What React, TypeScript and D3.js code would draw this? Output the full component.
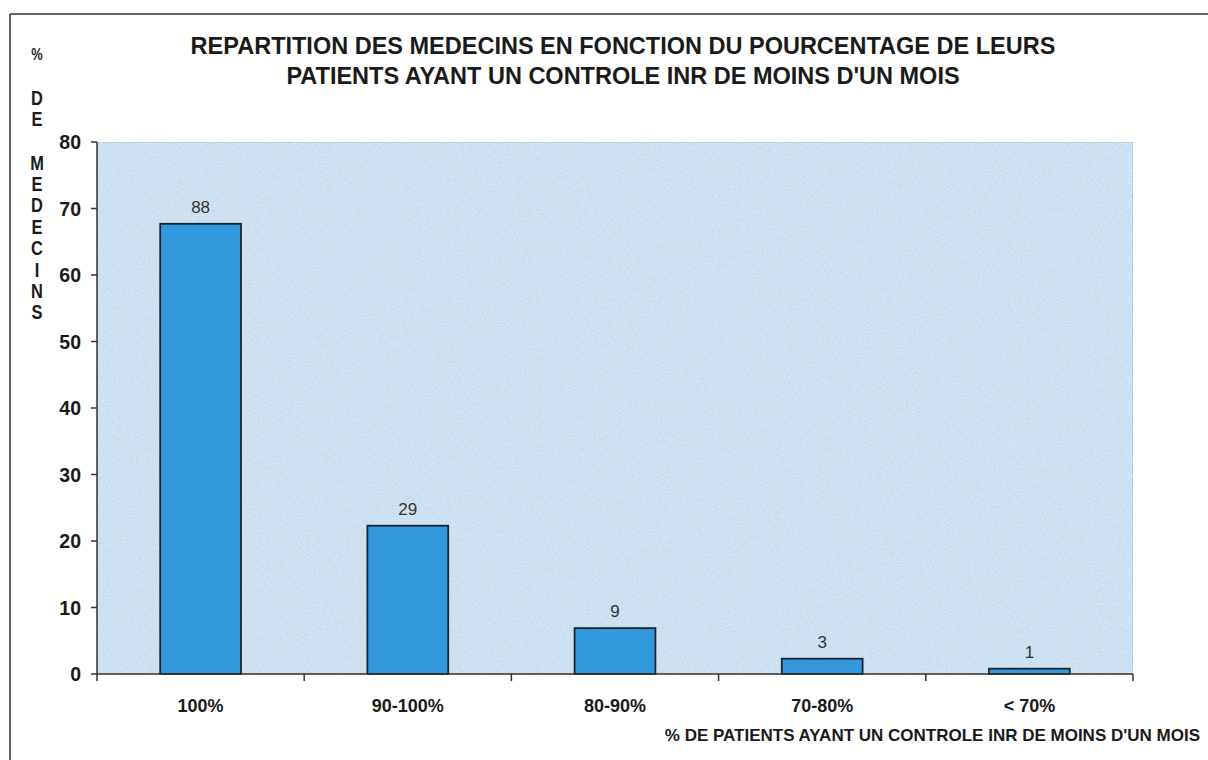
import React from "react";
import * as d3 from "d3";

const WIDTH = 1208;
const HEIGHT = 760;

// categories on the x axis
const categories = ["100%", "90-100%", "80-90%", "70-80%", "< 70%"];
// bar heights: % of doctors
const percentValues = [67.7, 22.3, 6.9, 2.3, 0.8];
// labels above the bars: number of doctors
const countLabels = ["88", "29", "9", "3", "1"];
const yTicks = [0, 10, 20, 30, 40, 50, 60, 70, 80];

const titleLines = [
  "REPARTITION DES MEDECINS EN FONCTION DU POURCENTAGE DE LEURS",
  "PATIENTS AYANT UN CONTROLE INR DE MOINS D'UN MOIS",
];
const xTitle = "% DE PATIENTS AYANT UN CONTROLE INR DE MOINS D'UN MOIS";
const yTitleGroups = ["%", "DE", "MEDECINS"];

const PLOT = { left: 97, right: 1133, top: 142, bottom: 674 };
const BAR_RATIO = 0.39;
const FONT = "Arial, 'Liberation Sans', sans-serif";

export default function App() {
  const x = d3.scaleBand<string>().domain(categories).range([PLOT.left, PLOT.right]).padding(0);
  const y = d3.scaleLinear().domain([0, 80]).range([PLOT.bottom, PLOT.top]);
  const barW = x.bandwidth() * BAR_RATIO;
  const boundaries = categories.map((c) => x(c) as number).concat([PLOT.right]);

  // vertical stacked y title letters
  const yLetters: { ch: string; y: number }[] = [];
  let cy = 52;
  yTitleGroups.forEach((g, gi) => {
    if (gi === 1) cy = 97;
    if (gi === 2) cy = 162;
    g.split("").forEach((ch) => {
      yLetters.push({ ch, y: cy });
      cy += 21.4;
    });
  });

  return (
    <svg width={WIDTH} height={HEIGHT} style={{ position: "absolute", left: 0, top: 0, background: "#fff" }}>
      <defs>
        <filter id="grain" x="0" y="0" width="100%" height="100%">
          <feTurbulence type="fractalNoise" baseFrequency="0.9" numOctaves="2" seed="3" result="n" />
          <feColorMatrix type="matrix" values="0 0 0 0 1  0 0 0 0 1  0 0 0 0 1  0 0 0 -0.9 0.55" in="n" result="w" />
          <feComposite in="w" in2="SourceGraphic" operator="in" result="wm" />
          <feMerge>
            <feMergeNode in="SourceGraphic" />
            <feMergeNode in="wm" />
          </feMerge>
        </filter>
      </defs>

      {/* outer frame */}
      <line x1={10} y1={14} x2={WIDTH} y2={14} stroke="#333" strokeWidth={1.5} />
      <line x1={10} y1={14} x2={10} y2={HEIGHT} stroke="#333" strokeWidth={1.5} />

      {/* title */}
      {titleLines.map((t, i) => (
        <text key={i} x={623} y={54 + i * 30} textAnchor="middle" fontFamily={FONT} fontWeight="bold" fontSize={23.5} fill="#1a1a1a">
          {t}
        </text>
      ))}

      {/* plot area */}
      <rect
        x={PLOT.left}
        y={PLOT.top}
        width={PLOT.right - PLOT.left}
        height={PLOT.bottom - PLOT.top}
        fill="#c6ddef"
        stroke="#9fb3c2"
        strokeWidth={1}
        filter="url(#grain)"
      />

      {/* bars */}
      {categories.map((c, i) => {
        const cx = (x(c) as number) + x.bandwidth() / 2;
        return (
          <g key={c}>
            <rect
              x={cx - barW / 2}
              y={y(percentValues[i])}
              width={barW}
              height={y(0) - y(percentValues[i])}
              fill="#3199dc"
              stroke="#1b2430"
              strokeWidth={1.8}
            />
            <text x={cx} y={y(percentValues[i]) - 11} textAnchor="middle" fontFamily={FONT} fontSize={17} fill="#333">
              {countLabels[i]}
            </text>
            <text x={cx} y={712} textAnchor="middle" fontFamily={FONT} fontWeight="bold" fontSize={18} fill="#1a1a1a">
              {c}
            </text>
          </g>
        );
      })}

      {/* y axis */}
      <line x1={PLOT.left} y1={PLOT.top} x2={PLOT.left} y2={PLOT.bottom} stroke="#333" strokeWidth={1.5} />
      {yTicks.map((t) => (
        <g key={t}>
          <line x1={PLOT.left - 6} y1={y(t)} x2={PLOT.left} y2={y(t)} stroke="#333" strokeWidth={1.5} />
          <text x={81} y={y(t) + 7} textAnchor="end" fontFamily={FONT} fontWeight="bold" fontSize={19.5} fill="#1a1a1a">
            {t}
          </text>
        </g>
      ))}

      {/* x axis */}
      <line x1={PLOT.left} y1={PLOT.bottom} x2={PLOT.right} y2={PLOT.bottom} stroke="#333" strokeWidth={1.5} />
      {boundaries.map((bx, i) => (
        <line key={i} x1={bx} y1={PLOT.bottom} x2={bx} y2={PLOT.bottom + 7} stroke="#333" strokeWidth={1.5} />
      ))}

      {/* axis titles */}
      <text x={1200} y={741} textAnchor="end" fontFamily={FONT} fontWeight="bold" fontSize={17} fill="#1a1a1a">
        {xTitle}
      </text>
      {yLetters.map((l, i) => (
        <text
          key={i}
          transform={`translate(37,${l.y + 7.5}) scale(0.8,1)`}
          textAnchor="middle"
          fontFamily={FONT}
          fontWeight="bold"
          fontSize={l.ch === "%" ? 16 : 20.5}
          fill="#1a1a1a"
        >
          {l.ch}
        </text>
      ))}
    </svg>
  );
}
